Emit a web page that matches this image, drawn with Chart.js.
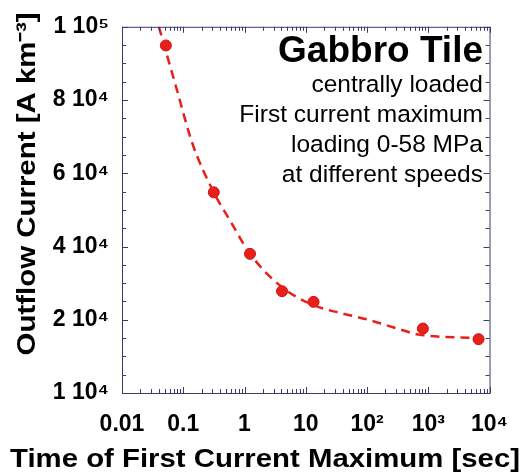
<!DOCTYPE html>
<html>
<head>
<meta charset="utf-8">
<script src="https://cdn.jsdelivr.net/npm/chart.js@4.4.0/dist/chart.umd.min.js"></script>
<style>
  html, body { margin: 0; padding: 0; background: #fff; }
  #wrap { width: 526px; height: 474px; }
</style>
</head>
<body>
<div id="wrap"><canvas id="c" width="526" height="474"></canvas></div>
<script>
// measured points (time in sec, current on the plot's own linear axis)
const sampleTime = [0.052, 0.315, 1.23, 4.1, 13.4, 817, 6620];
const sampleCurrent = [94900, 54800, 38000, 27800, 24900, 17600, 14700];

// dashed fit curve
const fitTime = [0.040, 0.0753, 0.1406, 0.315, 0.6, 1.23, 4.1, 13.4, 40, 100, 300, 680, 6620];
const fitCurrent = [100000, 83960, 68200, 54800, 46700, 38000, 28900, 24000, 21700, 20100, 17700, 16000, 15000];

const xTickValues = [0.01, 0.1, 1, 10, 100, 1000, 10000];
const xTickLabels = ['0.01', '0.1', '1', '10', '10²', '10³', '10⁴'];
const yTickValues = [0, 20000, 40000, 60000, 80000, 100000];
const yTickLabels = ['1 10⁴', '2 10⁴', '4 10⁴', '6 10⁴', '8 10⁴', '1 10⁵'];

const xTitle = 'Time of First Current Maximum [sec]';
const yTitle = 'Outflow Current [A km⁻³]';
const noteTitle = 'Gabbro Tile';
const noteLines = ['centrally loaded', 'First current maximum', 'loading 0-58 MPa', 'at different speeds'];

const FONT = '"Liberation Sans", Arial, sans-serif';
const AXIS = '#3a3a6e';
const RED = '#e8201c';

// inward ticks on all four sides + frame
const innerTicks = {
    id: 'innerTicks',
    afterDraw(chart) {
        const { ctx, chartArea: a, scales } = chart;
        ctx.save();
        ctx.strokeStyle = AXIS;
        ctx.lineWidth = 1;
        ctx.beginPath();
        for (let v = 0; v <= 100000; v += 5000) {
            const y = Math.round(scales.y.getPixelForValue(v)) + 0.5;
            const len = v % 20000 === 0 ? 6 : 4;
            ctx.moveTo(a.left, y); ctx.lineTo(a.left + len, y);
            ctx.moveTo(a.right, y); ctx.lineTo(a.right - len, y);
        }
        for (let d = -2; d <= 4; d++) {
            for (let m = 1; m <= 9; m++) {
                const v = m * Math.pow(10, d);
                if (v > 10000) break;
                const x = Math.round(scales.x.getPixelForValue(v)) + 0.5;
                const len = m === 1 ? 6 : 4;
                ctx.moveTo(x, a.bottom); ctx.lineTo(x, a.bottom - len);
                ctx.moveTo(x, a.top); ctx.lineTo(x, a.top + len);
            }
        }
        ctx.stroke();
        ctx.strokeRect(a.left + 0.5, a.top + 0.5, a.right - a.left, a.bottom - a.top);
        ctx.restore();
    }
};

// draw text stretched along its direction to a given length
function stretchedText(ctx, text, x, y, angle, length) {
    ctx.save();
    ctx.translate(x, y);
    ctx.rotate(angle);
    const w = ctx.measureText(text).width;
    ctx.scale(length / w, 1);
    ctx.fillText(text, 0, 0);
    ctx.restore();
}

// axis titles (the original type is stretched along the text) and the note
const texts = {
    id: 'texts',
    afterDraw(chart) {
        const ctx = chart.ctx;
        ctx.save();
        ctx.fillStyle = '#000';
        ctx.textBaseline = 'alphabetic';
        ctx.textAlign = 'center';
        ctx.font = 'bold 25px ' + FONT;
        stretchedText(ctx, xTitle, 265, 467, 0, 510);
        stretchedText(ctx, yTitle, 35, 184, -Math.PI / 2, 343);

        ctx.textAlign = 'right';
        ctx.font = 'bold 37px ' + FONT;
        ctx.fillText(noteTitle, 483, 62);
        ctx.font = '24.5px ' + FONT;
        noteLines.forEach((t, i) => ctx.fillText(t, 483, 92 + i * 30));
        ctx.restore();
    }
};

new Chart(document.getElementById('c'), {
    data: {
        datasets: [
            {
                type: 'line',
                data: fitTime.map((t, i) => ({ x: t, y: fitCurrent[i] })),
                borderColor: RED,
                borderWidth: 2.5,
                borderDash: [9, 6],
                pointRadius: 0,
                cubicInterpolationMode: 'monotone',
                fill: false
            },
            {
                type: 'scatter',
                data: sampleTime.map((t, i) => ({ x: t, y: sampleCurrent[i] })),
                backgroundColor: RED,
                borderColor: '#d01010',
                borderWidth: 1,
                pointRadius: 5.5
            }
        ]
    },
    options: {
        responsive: false,
        animation: false,
        devicePixelRatio: 1,
        layout: { padding: { top: 19, right: 28, left: 0, bottom: 0 } },
        plugins: {
            legend: { display: false },
            tooltip: { enabled: false }
        },
        scales: {
            x: {
                type: 'logarithmic',
                min: 0.01,
                max: 10000,
                afterBuildTicks: s => { s.ticks = xTickValues.map(v => ({ value: v })); },
                afterFit: s => { s.height = 81; },
                grid: { display: false, drawTicks: false },
                border: { display: false },
                ticks: {
                    autoSkip: false,
                    maxRotation: 0,
                    padding: 18,
                    color: '#000',
                    font: { family: FONT, size: 23, weight: 'bold' },
                    callback: (v, i) => xTickLabels[i]
                }
            },
            y: {
                type: 'linear',
                min: 0,
                max: 100000,
                afterBuildTicks: s => { s.ticks = yTickValues.map(v => ({ value: v })); },
                afterFit: s => { s.width = 122; },
                grid: { display: false, drawTicks: false },
                border: { display: false },
                ticks: {
                    padding: 13,
                    color: '#000',
                    font: { family: FONT, size: 23, weight: 'bold' },
                    callback: (v, i) => yTickLabels[i]
                }
            }
        }
    },
    plugins: [innerTicks, texts]
});
</script>
</body>
</html>
